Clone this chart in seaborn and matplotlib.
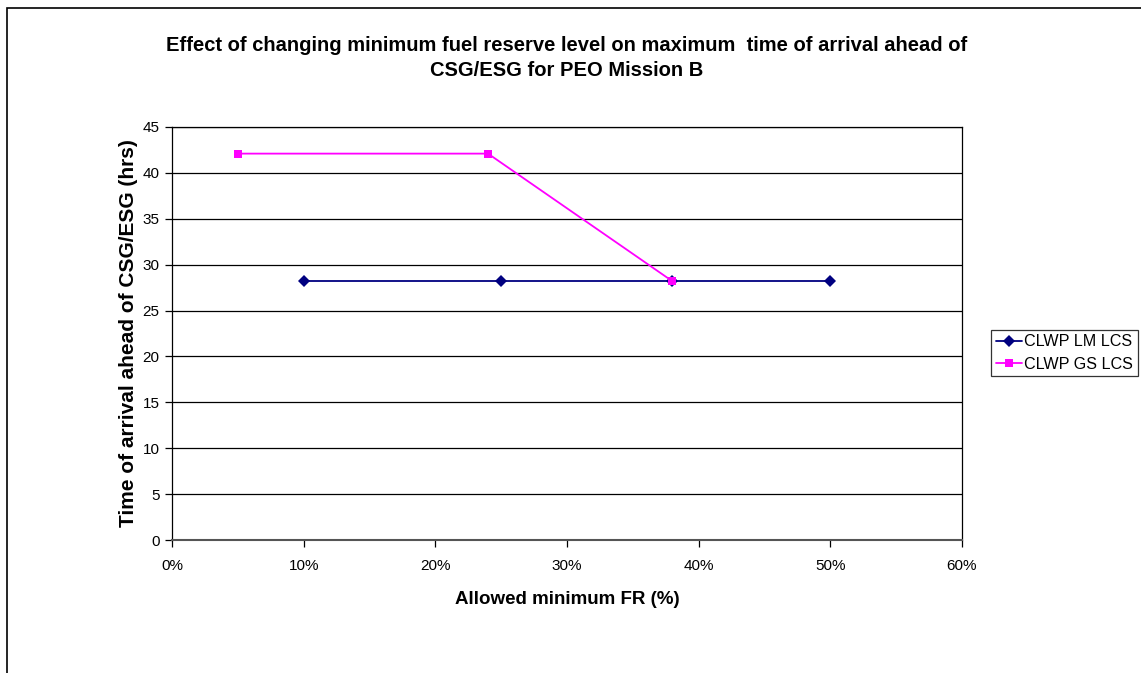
import matplotlib
matplotlib.use("Agg")
import matplotlib.pyplot as plt
import seaborn as sns
import pandas as pd
from matplotlib.patches import Rectangle
from matplotlib.ticker import FuncFormatter, MultipleLocator

lm_x = [10, 25, 38, 50]
lm_y = [28.2, 28.2, 28.2, 28.2]
gs_x = [5, 24, 38]
gs_y = [42.1, 42.1, 28.2]
series_names = ["CLWP LM LCS", "CLWP GS LCS"]

df = pd.concat([
    pd.DataFrame({"x": lm_x, "y": lm_y, "s": series_names[0]}),
    pd.DataFrame({"x": gs_x, "y": gs_y, "s": series_names[1]}),
])

sns.set_style("white")
plt.rcParams["font.family"] = ["Liberation Sans", "DejaVu Sans"]
plt.rcParams["text.color"] = "black"
plt.rcParams["axes.labelcolor"] = "black"
plt.rcParams["xtick.color"] = "black"
plt.rcParams["ytick.color"] = "black"

fig = plt.figure(figsize=(11.41, 6.73), dpi=100)
ax = fig.add_axes([172/1141, 1-540/673, (962-172)/1141, (540-127)/673])

fig.patches.append(Rectangle((7/1141, -0.01), 1.2, 1-8/673+0.01, transform=fig.transFigure,
                             fill=False, edgecolor="black", linewidth=1.2))

palette = {series_names[0]: "#000080", series_names[1]: "#FF00FF"}
markers = {series_names[0]: "D", series_names[1]: "s"}
sns.lineplot(data=df, x="x", y="y", hue="s", style="s", palette=palette, markers=markers,
             dashes=False, markersize=6, markeredgewidth=0, linewidth=1.3, ax=ax, legend=True, sort=False)

ax.set_xlim(0, 60)
ax.set_ylim(0, 45)
ax.xaxis.set_major_locator(MultipleLocator(10))
ax.yaxis.set_major_locator(MultipleLocator(5))
ax.xaxis.set_major_formatter(FuncFormatter(lambda v, p: f"{int(round(v))}%"))
ax.grid(axis="y", color="black", linewidth=0.9)
ax.set_axisbelow(True)
for sp in ax.spines.values():
    sp.set_color("black")
    sp.set_linewidth(0.9)
ax.spines["bottom"].set_color("#555555")
ax.spines["bottom"].set_linewidth(1.5)
ax.tick_params(axis="both", direction="out", length=5, width=0.9, color="black", labelsize=11, pad=4, left=True, bottom=True)
ax.tick_params(axis="x", pad=9)

ax.set_xlabel("Allowed minimum FR (%)", fontsize=13.5, fontweight="bold", labelpad=13)
ax.set_ylabel("Time of arrival ahead of CSG/ESG (hrs)", fontsize=15, fontweight="bold", labelpad=3)
fig.text(567/1141, 1-58/673, "Effect of changing minimum fuel reserve level on maximum  time of arrival ahead of\nCSG/ESG for PEO Mission B",
         ha="center", va="center", fontsize=14.5, fontweight="bold", linespacing=1.45)

handles = ax.get_legend().legend_handles
ax.legend(handles=handles, labels=series_names, loc="center left", bbox_to_anchor=(991/1141, 1-353/673),
          bbox_transform=fig.transFigure, frameon=True, fancybox=False, edgecolor="black",
          fontsize=11.6, handlelength=1.6, handletextpad=0.15, borderpad=0.3, labelspacing=0.45,
          borderaxespad=0)
ax.get_legend().get_frame().set_linewidth(0.9)

fig.savefig("out.png", dpi=100)
